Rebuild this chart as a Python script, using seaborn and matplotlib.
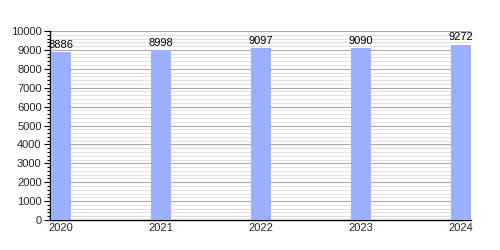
import matplotlib
matplotlib.use("Agg")
import matplotlib.pyplot as plt
import seaborn as sns
import pandas as pd
from matplotlib.ticker import MultipleLocator

years = ["2020", "2021", "2022", "2023", "2024"]
values = [8886, 8998, 9097, 9090, 9272]
bar_color = "#9cb0ff"

sns.set_theme(style="white")
plt.rcParams["font.family"] = ["Liberation Sans", "DejaVu Sans"]

df = pd.DataFrame({"year": years, "value": values})

fig = plt.figure(figsize=(5, 2.5), dpi=100)
ax = fig.add_axes([50 / 500, 30 / 250, 421 / 500, 189 / 250])

sns.barplot(data=df, x="year", y="value", color=bar_color, width=0.2,
            saturation=1, ax=ax, zorder=3, edgecolor="none")

ax.set_xlim(-0.11, 4.1)
ax.set_ylim(0, 10000)
ax.yaxis.set_major_locator(MultipleLocator(1000))
ax.yaxis.set_minor_locator(MultipleLocator(200))
ax.grid(which="major", axis="y", color="#aaaaaa", linewidth=0.8, zorder=0)
ax.grid(which="minor", axis="y", color="#e2e2e2", linewidth=0.8, zorder=0)
ax.set_axisbelow(True)

for s in ["top", "right"]:
    ax.spines[s].set_visible(False)
for s in ["left", "bottom"]:
    ax.spines[s].set_color("black")
    ax.spines[s].set_linewidth(1.0)

ax.tick_params(axis="y", which="major", left=True, length=4, width=0.8,
               color="black", labelsize=8, pad=2)
ax.tick_params(axis="y", which="minor", left=True, length=2, width=0.8,
               color="black")
ax.tick_params(axis="x", which="both", bottom=False, length=0,
               labelsize=8, pad=2)
ax.set_xlabel("")
ax.set_ylabel("")

for i, v in enumerate(values):
    ax.text(i, v + 120, str(v), ha="center", va="bottom", fontsize=8,
            color="black")

fig.savefig("out.png", dpi=100)
